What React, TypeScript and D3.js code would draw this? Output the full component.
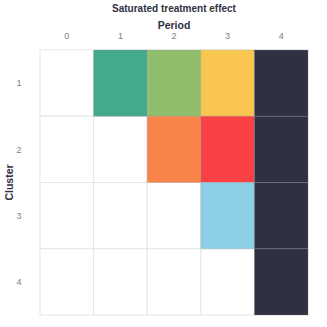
import { useEffect, useRef } from "react";
import * as d3 from "d3";

const periods = [0, 1, 2, 3, 4];
const clusters = [1, 2, 3, 4];
// treated cells, coloured by cohort / period
const cells: { cluster: number; period: number; color: string }[] = [
  { cluster: 1, period: 1, color: "#43AA8B" },
  { cluster: 1, period: 2, color: "#90BE6D" },
  { cluster: 1, period: 3, color: "#F9C74F" },
  { cluster: 1, period: 4, color: "#2E3142" },
  { cluster: 2, period: 2, color: "#F9844A" },
  { cluster: 2, period: 3, color: "#F94144" },
  { cluster: 2, period: 4, color: "#2E3142" },
  { cluster: 3, period: 3, color: "#8ECFE8" },
  { cluster: 3, period: 4, color: "#2E3142" },
  { cluster: 4, period: 4, color: "#2E3142" },
];

const MARGIN = { top: 50, right: 19, bottom: 12, left: 40 };
const W = 327;
const H = 327;
const FONT = "Liberation Sans, Arial, sans-serif";

export default function App() {
  const svgRef = useRef<SVGSVGElement>(null);

  useEffect(() => {
    if (!svgRef.current) return;
    const svg = d3.select(svgRef.current);
    svg.selectAll("*").remove();

    const width = W - MARGIN.left - MARGIN.right;
    const height = H - MARGIN.top - MARGIN.bottom;

    const x = d3.scaleBand<number>().domain(periods).range([0, width]);
    const y = d3.scaleBand<number>().domain(clusters).range([0, height]);

    const g = svg
      .append("g")
      .attr("transform", `translate(${MARGIN.left},${MARGIN.top})`);

    // background grid of all cells
    const all = clusters.flatMap((c) => periods.map((p) => ({ cluster: c, period: p })));
    g.selectAll("rect.bg")
      .data(all)
      .join("rect")
      .attr("class", "bg")
      .attr("x", (d) => x(d.period)!)
      .attr("y", (d) => y(d.cluster)!)
      .attr("width", x.bandwidth())
      .attr("height", y.bandwidth())
      .attr("fill", "#ffffff")
      .attr("stroke", "#e6e6e6")
      .attr("stroke-width", 1);

    g.selectAll("rect.cell")
      .data(cells)
      .join("rect")
      .attr("class", "cell")
      .attr("x", (d) => x(d.period)!)
      .attr("y", (d) => y(d.cluster)!)
      .attr("width", x.bandwidth())
      .attr("height", y.bandwidth())
      .attr("fill", (d) => d.color)
      .attr("stroke", "#999aa3")
      .attr("stroke-opacity", 0.25)
      .attr("stroke-width", 1);

    // top axis
    g.append("g")
      .selectAll("text")
      .data(periods)
      .join("text")
      .attr("x", (d) => x(d)! + x.bandwidth() / 2)
      .attr("y", -11)
      .attr("text-anchor", "middle")
      .attr("fill", "#808080")
      .attr("font-size", "9px")
      .attr("font-family", FONT)
      .text((d) => d);

    g.append("g")
      .selectAll("text")
      .data(clusters)
      .join("text")
      .attr("x", -21)
      .attr("y", (d) => y(d)! + y.bandwidth() / 2)
      .attr("dy", "0.35em")
      .attr("text-anchor", "middle")
      .attr("fill", "#808080")
      .attr("font-size", "9px")
      .attr("font-family", FONT)
      .text((d) => d);

    svg.append("text")
      .attr("x", MARGIN.left + width / 2)
      .attr("y", 12)
      .attr("text-anchor", "middle")
      .attr("fill", "#2E3142")
      .attr("font-size", "10px")
      .attr("font-weight", "bold")
      .attr("font-family", FONT)
      .text("Saturated treatment effect");

    svg.append("text")
      .attr("x", MARGIN.left + width / 2)
      .attr("y", 28.5)
      .attr("text-anchor", "middle")
      .attr("fill", "#2E3142")
      .attr("font-size", "10.5px")
      .attr("font-weight", "bold")
      .attr("font-family", FONT)
      .text("Period");

    svg.append("text")
      .attr("transform", `translate(13,${MARGIN.top + height / 2}) rotate(-90)`)
      .attr("text-anchor", "middle")
      .attr("fill", "#2E3142")
      .attr("font-size", "10.5px")
      .attr("font-weight", "bold")
      .attr("font-family", FONT)
      .text("Cluster");
  }, []);

  return (
    <svg
      ref={svgRef}
      width={W}
      height={H}
      style={{ position: "absolute", left: 0, top: 0, background: "#fff" }}
    />
  );
}
